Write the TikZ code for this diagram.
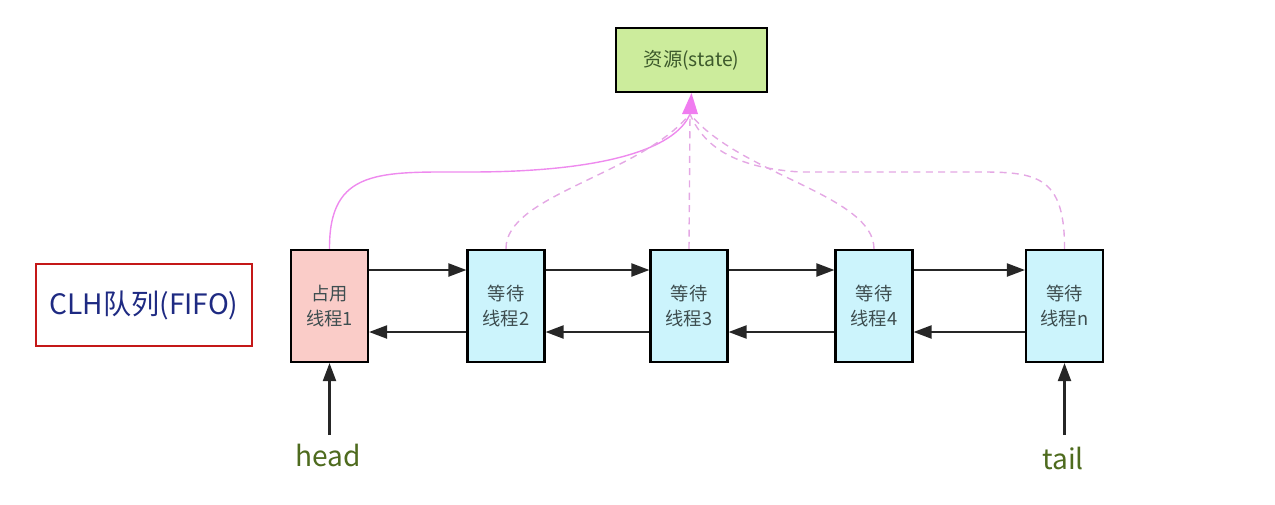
\documentclass[tikz,border=0pt]{standalone}
\usepackage{fontspec}
\setmainfont{Noto Sans CJK SC}
\usetikzlibrary{arrows.meta}
\definecolor{pinkfill}{HTML}{FACCC8}
\definecolor{cyanfill}{HTML}{CCF4FC}
\definecolor{greenfill}{HTML}{CCEC9C}
\definecolor{boxtext}{HTML}{3E4E50}
\definecolor{restext}{HTML}{3D5A2C}
\definecolor{navy}{HTML}{1E2A82}
\definecolor{olive}{HTML}{4E6B1E}
\definecolor{clhred}{HTML}{C41818}
\definecolor{solidpink}{HTML}{EE8AEE}
\definecolor{dashpink}{HTML}{E4A8E4}
\definecolor{tippink}{HTML}{F07CF0}
\tikzset{
  qbox/.style={draw=black, line width=1.2pt, minimum width=1.54cm, minimum height=2.24cm,
    inner sep=0pt, align=center, text=boxtext, font=\fontsize{10.4}{14}\selectfont},
  link/.style={draw=black!85, line width=1.2pt, -{Triangle[length=0.36cm,width=0.26cm]}},
  ptr/.style={draw=black!85, line width=1.2pt, -{Triangle[length=0.36cm,width=0.26cm]}},
  solidcurve/.style={draw=solidpink, line width=0.8pt},
  dashcurve/.style={draw=dashpink, line width=0.8pt, dash pattern=on 4pt off 3pt},
  label/.style={font=\fontsize{16}{18}\selectfont, text=olive}
}
\begin{document}
\begin{tikzpicture}[x=0.02cm, y=-0.02cm]
\useasboundingbox (0,0) rectangle (1275,504);
% resource
\node[draw=black, line width=1.2pt, fill=greenfill, minimum width=3.02cm, minimum height=1.28cm,
  inner sep=0pt, text=restext, font=\fontsize{11}{13}\selectfont] (res) at (691.5,60) {资源(state)};
% CLH label box
\node[draw=clhred, line width=1pt, minimum width=4.32cm, minimum height=1.64cm, inner sep=0pt,
  text=navy, font=\fontsize{16}{18}\selectfont] (clh) at (144,305) {CLH队列(FIFO)};
% queue nodes
\node[qbox, fill=pinkfill] (b1) at (329.5,306) {占用\\线程1};
\node[qbox, fill=cyanfill] (b2) at (506,306) {等待\\线程2};
\node[qbox, fill=cyanfill] (b3) at (689,306) {等待\\线程3};
\node[qbox, fill=cyanfill] (b4) at (874,306) {等待\\线程4};
\node[qbox, fill=cyanfill] (bn) at (1064.5,306) {等待\\线程n};
% links
\foreach \a/\b in {b1/b2,b2/b3,b3/b4,b4/bn}{
  \draw[link] (\a.east |- 0,270) -- (\b.west |- 0,270);
  \draw[link] (\b.west |- 0,332) -- (\a.east |- 0,332);
}
% head / tail
\node[label] (head) at (328,455) {head};
\node[label] (tail) at (1063,458) {tail};
\coordinate (hs) at (329.5,435);
\coordinate (ts) at (1064.5,435);
\draw[ptr] (hs) -- (b1.south);
\draw[ptr] (ts) -- (bn.south);
% curves to resource
\coordinate (base) at (690,114);
\draw[solidcurve] (b1.north) .. controls (329,168) and (380,172) .. (470,172)
  .. controls (600,172) and (675,150) .. (base);
\draw[dashcurve] (b2.north) .. controls (505,195) and (640,175) .. (base);
\draw[dashcurve] (b4.north) .. controls (874,195) and (740,175) .. (base);
\draw[dashcurve] (bn.north) .. controls (1065,168) and (1030,172) .. (960,172)
  -- (800,172) .. controls (740,168) and (705,150) .. (base);
\draw[dashcurve] (b3.north) -- (base);
\fill[tippink] (res.south) -- (682,114) -- (698,114) -- cycle;
\end{tikzpicture}
\end{document}
